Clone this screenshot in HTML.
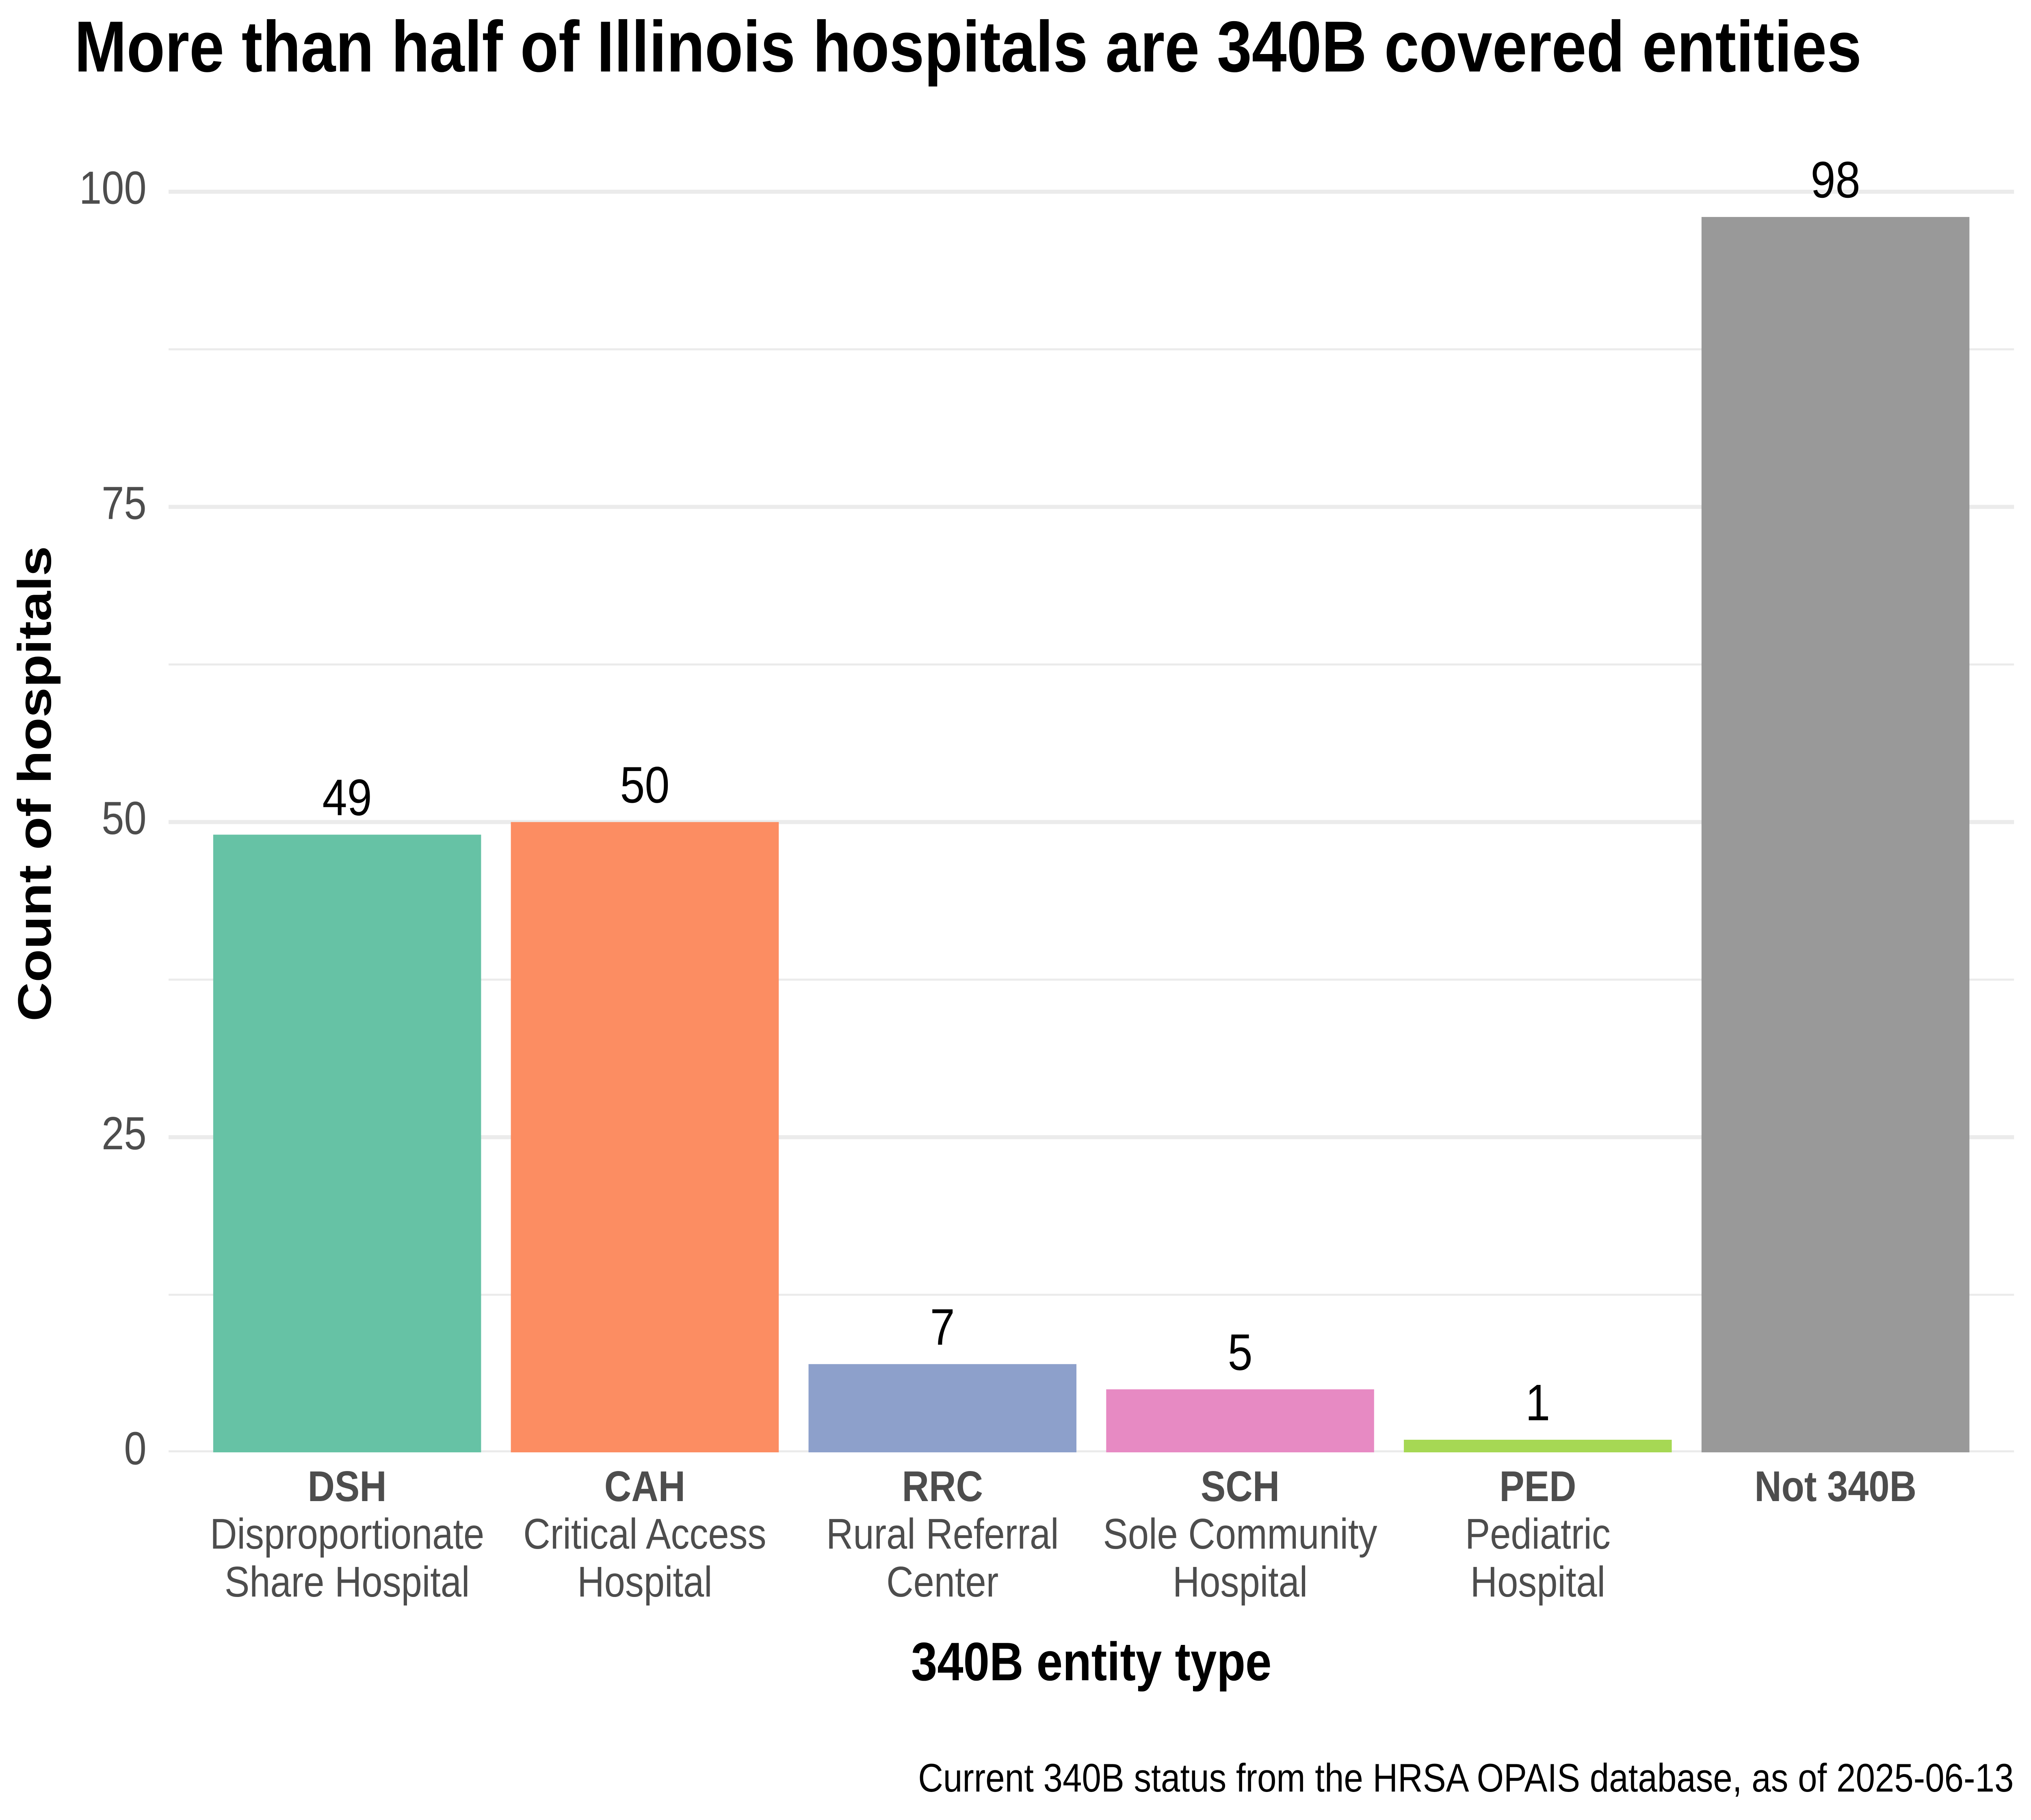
<!DOCTYPE html>
<html lang="en">
<head>
<meta charset="utf-8">
<title>More than half of Illinois hospitals are 340B covered entities</title>
<style>
  html, body { margin: 0; padding: 0; background: #ffffff; overflow: hidden; width: 100vw; height: 100vh; }
  svg { display: block; width: 100vw; height: 100vh; text-rendering: geometricPrecision; font-family: "Liberation Sans", Arial, sans-serif; }
  .bold { font-weight: 700; }
  .axis-text { fill: #4d4d4d; font-size: 106px; }
  .y-tick-text { fill: #4d4d4d; font-size: 114.5px; }
  .axis-title { fill: #000000; font-size: 133.3px; font-weight: 700; }
</style>
</head>
<body>
<svg id="chart" xmlns="http://www.w3.org/2000/svg" viewBox="0 0 5760 4480" preserveAspectRatio="none">
  <rect x="0" y="0" width="5760" height="4480" fill="#ffffff"></rect>
  <clipPath id="panel-clip"><rect x="478" y="200" width="5234" height="3375"></rect></clipPath>
  <g id="grid" clip-path="url(#panel-clip)"></g>
  <g id="bars"></g>
  <g id="values"></g>
  <g id="yticks"></g>
  <g id="xticks"></g>
  <text x="211" y="176" font-size="177.8" font-weight="700" fill="#000000">More than half of Illinois hospitals are 340B covered entities</text>
  <text class="axis-title" x="3095" y="4136" text-anchor="middle">340B entity type</text>
  <text class="axis-title" transform="translate(144 1929) rotate(-90)" text-anchor="middle">Count of hospitals</text>
  <text x="5711" y="4410" text-anchor="end" font-size="98.3" fill="#000000">Current 340B status from the HRSA OPAIS database, as of 2025-06-13</text>
</svg>
<script>
const categories = ["DSH", "CAH", "RRC", "SCH", "PED", "Not 340B"];
const categoryLine1 = ["Disproportionate", "Critical Access", "Rural Referral", "Sole Community", "Pediatric", ""];
const categoryLine2 = ["Share Hospital", "Hospital", "Center", "Hospital", "Hospital", ""];
const counts = [49, 50, 7, 5, 1, 98];
const majorTicks = [0, 25, 50, 75, 100];
const minorTicks = [12.5, 37.5, 62.5, 87.5];
const palette = ["#66c2a5", "#fc8d62", "#8da0cb", "#e78ac3", "#a6d854", "#999999"];

const SVG_NS = "http://www.w3.org/2000/svg";
const panelLeft = 478, panelRight = 5712, panelBottom = 3575, yAtHundred = 472;
const bandWidth = (panelRight - panelLeft) / (categories.length - 1 + 1.2);

function xCenter(i) { return panelLeft + bandWidth * (0.6 + i); }
function yScale(v) { return panelBottom - v * (panelBottom - yAtHundred) / 100; }

function make(tag, attrs, parent, text) {
  const el = document.createElementNS(SVG_NS, tag);
  for (const k in attrs) el.setAttribute(k, attrs[k]);
  if (text !== undefined) el.textContent = text;
  parent.appendChild(el);
  return el;
}

const gridG = document.getElementById("grid");
const barsG = document.getElementById("bars");
const valuesG = document.getElementById("values");
const yG = document.getElementById("yticks");
const xG = document.getElementById("xticks");

minorTicks.forEach(function (t) {
  const line = make("line", { x1: panelLeft, x2: panelRight, y1: yScale(t), y2: yScale(t), stroke: "#ebebeb", "stroke-width": 5 }, gridG);
  
  
});

majorTicks.forEach(function (t) {
  const line = make("line", { x1: panelLeft, x2: panelRight, y1: yScale(t), y2: yScale(t), stroke: "#ebebeb", "stroke-width": 10 }, gridG);
  
  
  const label = make("text", { class: "y-tick-text", x: 415.5, y: yScale(t) + 29.5, "text-anchor": "end" }, yG, String(t));
  
  
});

counts.forEach(function (v, i) {
  const w = bandWidth * 0.9;
  const cx = xCenter(i);
  const bar = make("rect", { x: cx - w / 2, y: yScale(v), width: w, height: panelBottom - yScale(v), fill: palette[i] }, barsG);
  
  

  const val = make("text", { x: cx, y: yScale(v) - 48, "text-anchor": "middle", "font-size": 126.5, fill: "#000000" }, valuesG, String(v));
  
  

  const code = make("text", { class: "axis-text bold", x: cx, y: 3695, "text-anchor": "middle" }, xG, categories[i]);
  
  

  if (categoryLine1[i]) {
    const l1 = make("text", { class: "axis-text", x: cx, y: 3812, "text-anchor": "middle" }, xG, categoryLine1[i]);
    
    
  }
  if (categoryLine2[i]) {
    const l2 = make("text", { class: "axis-text", x: cx, y: 3930, "text-anchor": "middle" }, xG, categoryLine2[i]);
    
    
  }
});
</script>
</body>
</html>
